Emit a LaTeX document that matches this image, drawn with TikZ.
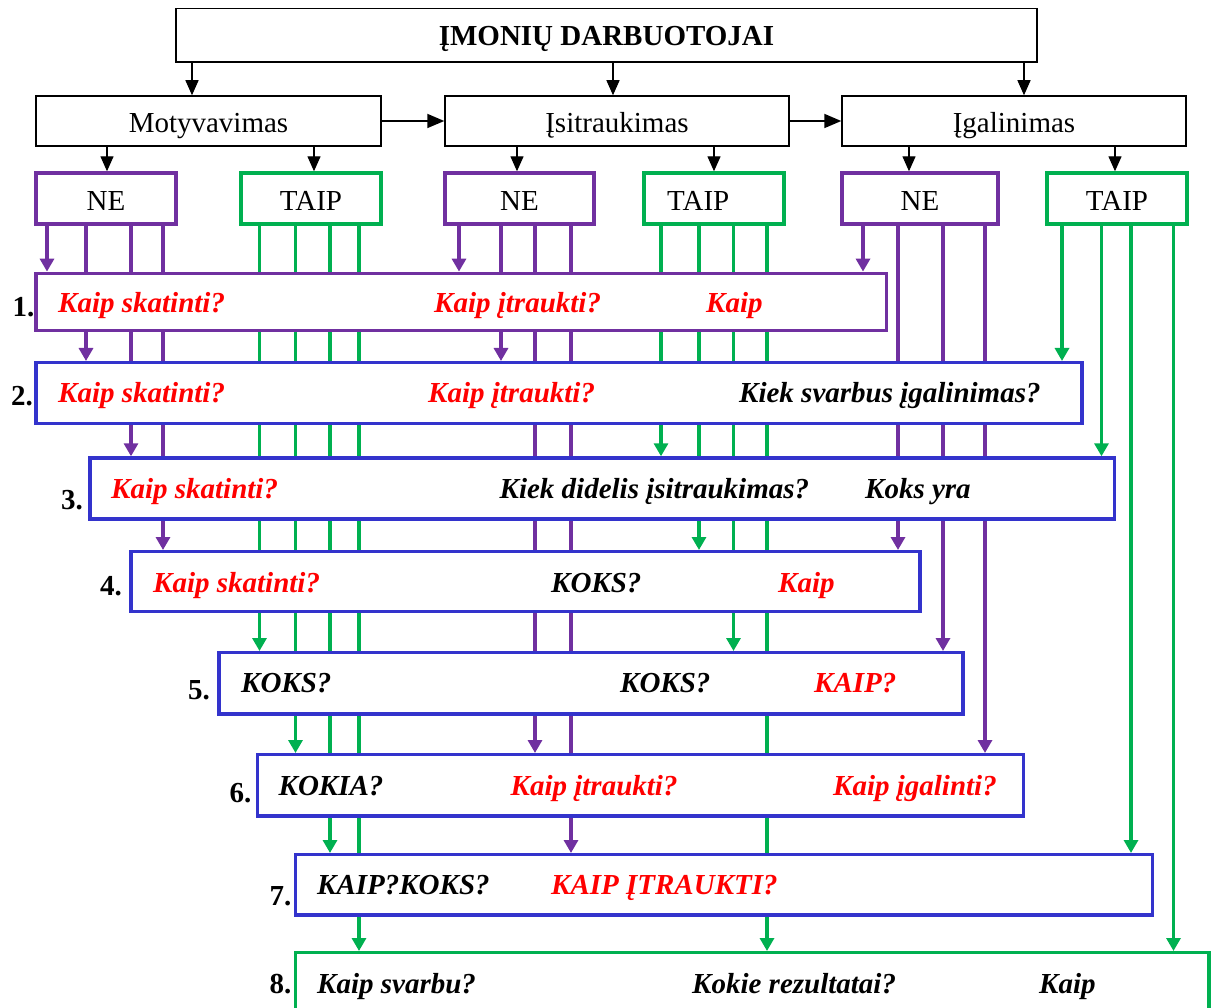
\documentclass[tikz,border=0pt]{standalone}
\usepackage{fontspec}
\setmainfont{Liberation Serif}
\usetikzlibrary{arrows.meta}
\pgfdeclarelayer{background}
\pgfsetlayers{background,main}
\definecolor{cpurple}{RGB}{112,48,160}
\definecolor{cgreen}{RGB}{0,176,80}
\definecolor{cblue}{RGB}{51,51,204}
\definecolor{cred}{RGB}{255,0,0}
\tikzset{
  fnt/.style={font=\fontsize{29}{34}\selectfont},
  bbox/.style={draw=black, line width=1.5pt, fill=white, inner sep=0pt, fnt, text height=24pt, text depth=0pt},
  pbox/.style={draw=cpurple, line width=3.4pt, fill=white, inner sep=0pt, fnt, text height=25pt, text depth=0pt},
  gbox/.style={draw=cgreen, line width=3.4pt, fill=white, inner sep=0pt, fnt, text height=25pt, text depth=0pt},
  ubox/.style={draw=cblue, line width=3.4pt, fill=white, inner sep=0pt},
  qtxt/.style={inner sep=0pt, anchor=base west, font=\fontsize{29}{34}\selectfont\bfseries\itshape},
  qred/.style={qtxt, text=cred},
  numtxt/.style={inner sep=0pt, anchor=base east, font=\fontsize{29}{34}\selectfont\bfseries},
  barr/.style={draw=black, line width=1.3pt, -{Triangle[length=15pt,width=13pt]}},
  harr/.style={draw=black, line width=1.8pt, -{Triangle[length=17pt,width=14pt]}},
  parr/.style={draw=cpurple, line width=3.2pt, -{Triangle[length=13pt,width=14pt]}},
  garr/.style={draw=cgreen, line width=3.2pt, -{Triangle[length=13pt,width=14pt]}},
}
\begin{document}
\begin{tikzpicture}[x=1pt,y=-1pt]
\useasboundingbox (0,0) rectangle (1213,1008);
% top level
\node[bbox, text height=21.5pt, minimum width=861pt, minimum height=53.5pt] (title) at (606.5,35.25) {\bfseries ĮMONIŲ DARBUOTOJAI};
\node[bbox, minimum width=345pt, minimum height=50pt] (mot) at (208.5,121) {Motyvavimas};
\node[bbox, minimum width=344pt, minimum height=50pt] (isi) at (617,121) {Įsitraukimas};
\node[bbox, minimum width=344pt, minimum height=50pt] (iga) at (1014,121) {Įgalinimas};
% NE / TAIP
\node[pbox, minimum width=140pt, minimum height=51pt] (ne1) at (106,198.5) {NE};
\node[gbox, minimum width=140pt, minimum height=51pt] (t1) at (311,198.5) {TAIP};
\node[pbox, minimum width=149pt, minimum height=51pt] (ne2) at (519.5,198.5) {NE};
\node[gbox, minimum width=140pt, minimum height=51pt] (t2) at (714,198.5) {};
\node[fnt, inner sep=0pt, anchor=base west] (t2txt) at (667,211) {TAIP};
\node[pbox, minimum width=156pt, minimum height=51pt] (ne3) at (920,198.5) {NE};
\node[gbox, minimum width=140pt, minimum height=51pt] (t3) at (1117,198.5) {TAIP};
% numbered boxes
\node[pbox, minimum width=850.6pt, minimum height=57.4pt] (b1) at (461.3,302) {};
\node[ubox, minimum width=1046pt, minimum height=60.6pt] (b2) at (559,393) {};
\node[ubox, minimum width=1024.5pt, minimum height=61pt] (b3) at (602.25,488.5) {};
\node[ubox, minimum width=788.8pt, minimum height=60pt] (b4) at (525.4,581.7) {};
\node[ubox, minimum width=743.8pt, minimum height=61.3pt] (b5) at (590.9,683.35) {};
\node[ubox, minimum width=765.9pt, minimum height=61.3pt] (b6) at (640.55,785.35) {};
\node[ubox, minimum width=857.1pt, minimum height=60.3pt] (b7) at (724.05,884.85) {};
\node[gbox, minimum width=913.5pt, minimum height=87.3pt] (b8) at (752.25,996.35) {};
% connectors
\begin{pgfonlayer}{background}
\foreach \s/\d/\x [count=\i] in {title/mot/192, title/isi/613, title/iga/1024,
    mot/ne1/107, mot/t1/314, isi/ne2/517, isi/t2/714, iga/ne3/909, iga/t3/1115} {
  \coordinate (k\i) at (\x,0);
  \draw[barr] (\s.south -| k\i) -- (\d.north -| k\i);
}
\foreach \s/\d/\x/\st [count=\i] in {
    ne1/b1/47/parr, ne1/b2/86/parr, ne1/b3/131/parr, ne1/b4/163/parr,
    t1/b5/259.5/garr, t1/b6/295.5/garr, t1/b7/330/garr, t1/b8/359/garr,
    ne2/b1/459/parr, ne2/b2/501/parr, ne2/b6/535/parr, ne2/b7/571/parr,
    t2/b3/661/garr, t2/b4/699/garr, t2/b5/733.5/garr, t2/b8/767/garr,
    ne3/b1/863/parr, ne3/b4/898/parr, ne3/b5/943/parr, ne3/b6/985/parr,
    t3/b2/1062/garr, t3/b3/1101.5/garr, t3/b7/1131/garr, t3/b8/1173.5/garr} {
  \coordinate (v\i) at (\x,0);
  \draw[\st] (\s.south -| v\i) -- (\d.north -| v\i);
}
\end{pgfonlayer}
\draw[harr] (mot.east) -- (isi.west);
\draw[harr] (isi.east) -- (iga.west);
% numbers
\node[numtxt] (n1) at (34.5,317) {1.};
\node[numtxt] (n2) at (33,405) {2.};
\node[numtxt] (n3) at (83,509) {3.};
\node[numtxt] (n4) at (122,595) {4.};
\node[numtxt] (n5) at (210,699) {5.};
\node[numtxt] (n6) at (251.5,802) {6.};
\node[numtxt] (n7) at (291.5,905) {7.};
\node[numtxt] (n8) at (291.5,993) {8.};
% box texts
\node[qred] (q1a) at (58,313) {Kaip skatinti?};
\node[qred] (q1b) at (434,313) {Kaip įtraukti?};
\node[qred] (q1c) at (706,313) {Kaip};
\node[qred] (q2a) at (58,402) {Kaip skatinti?};
\node[qred] (q2b) at (428,402) {Kaip įtraukti?};
\node[qtxt] (q2c) at (739,402) {Kiek svarbus įgalinimas?};
\node[qred] (q3a) at (111,498) {Kaip skatinti?};
\node[qtxt] (q3b) at (499.5,498) {Kiek didelis įsitraukimas?};
\node[qtxt] (q3c) at (865,498) {Koks yra};
\node[qred] (q4a) at (153,592) {Kaip skatinti?};
\node[qtxt] (q4b) at (551,592) {KOKS?};
\node[qred] (q4c) at (778,592) {Kaip};
\node[qtxt] (q5a) at (241,692) {KOKS?};
\node[qtxt] (q5b) at (620,692) {KOKS?};
\node[qred] (q5c) at (814,692) {KAIP?};
\node[qtxt] (q6a) at (278.5,795) {KOKIA?};
\node[qred] (q6b) at (510.5,795) {Kaip įtraukti?};
\node[qred] (q6c) at (833,795) {Kaip įgalinti?};
\node[qtxt] (q7a) at (317,894) {KAIP?KOKS?};
\node[qred] (q7b) at (551,894) {KAIP ĮTRAUKTI?};
\node[qtxt] (q8a) at (317,993) {Kaip svarbu?};
\node[qtxt] (q8b) at (692,993) {Kokie rezultatai?};
\node[qtxt] (q8c) at (1039,993) {Kaip};
\end{tikzpicture}
\end{document}
